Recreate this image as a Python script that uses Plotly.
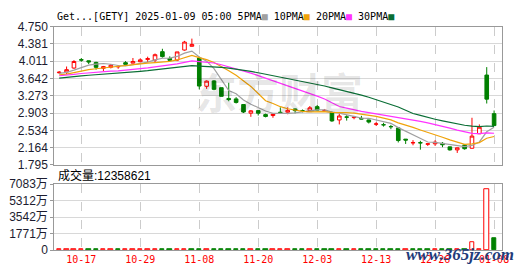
import plotly.graph_objects as go

# ---------------- data ----------------
open_ = [3.765, 3.78, 3.865, 4.045, 4.02, 3.985, 3.86, 3.88, 3.89, 3.98,
         3.97, 4.00, 4.05, 4.035, 4.215, 4.07, 4.035, 4.25, 4.33, 4.08,
         3.475, 3.59, 3.445, 3.215, 3.205, 3.085, 2.90, 2.955, 2.87, 2.85,
         2.92, 2.92, 2.99, 2.955, 2.955, 3.04, 2.95, 2.905, 2.755, 2.82,
         2.805, 2.79, 2.755, 2.665, 2.655, 2.615, 2.585, 2.345, 2.265, 2.27,
         2.235, 2.245, 2.255, 2.18, 2.115, 2.22, 2.15, 2.46, 3.715, 2.89]
high = [3.80, 3.898, 4.034, 4.08, 4.025, 4.00, 3.91, 3.95, 3.926, 4.013,
        4.08, 4.074, 4.108, 4.176, 4.277, 4.115, 4.21, 4.446, 4.494, 4.109,
        3.60, 3.607, 3.445, 3.55, 3.243, 3.09, 2.965, 2.96, 2.891, 2.89,
        3.025, 3.025, 3.00, 2.979, 3.053, 3.074, 2.99, 2.938, 2.891, 2.857,
        2.843, 2.843, 2.76, 2.709, 2.694, 2.65, 2.60, 2.345, 2.323, 2.309,
        2.25, 2.323, 2.282, 2.185, 2.165, 2.242, 2.802, 2.66, 3.885, 2.958]
low = [3.74, 3.735, 3.85, 4.00, 3.95, 3.83, 3.80, 3.857, 3.85, 3.945,
       3.965, 3.987, 3.987, 3.987, 4.088, 4.025, 4.013, 4.237, 4.325, 3.41,
       3.42, 3.39, 3.257, 3.155, 3.107, 2.904, 2.822, 2.85, 2.81, 2.802,
       2.915, 2.877, 2.897, 2.917, 2.955, 2.96, 2.945, 2.715, 2.66, 2.741,
       2.769, 2.77, 2.68, 2.627, 2.613, 2.558, 2.274, 2.242, 2.214, 2.12,
       2.20, 2.20, 2.173, 2.10, 2.05, 2.12, 2.145, 2.455, 3.107, 2.63]
close = [3.775, 3.83, 4.005, 4.035, 3.995, 3.88, 3.895, 3.925, 3.90, 3.945,
         4.005, 4.04, 4.065, 4.15, 4.11, 4.03, 4.21, 4.42, 4.37, 3.48,
         3.585, 3.41, 3.26, 3.19, 3.13, 2.925, 2.95, 2.90, 2.83, 2.88,
         2.915, 2.96, 2.955, 2.95, 3.015, 2.965, 2.96, 2.735, 2.84, 2.815,
         2.815, 2.775, 2.71, 2.67, 2.65, 2.61, 2.315, 2.325, 2.27, 2.265,
         2.245, 2.28, 2.225, 2.115, 2.16, 2.14, 2.41, 2.60, 3.20, 2.635]
# closes before the visible window (estimated from where the MA lines start)
pre_close = [3.50, 3.52, 3.48, 3.55, 3.58, 3.54, 3.56, 3.60, 3.57, 3.60,
             3.62, 3.65, 3.63, 3.68, 3.70, 3.66, 3.69, 3.72, 3.71, 3.74,
             3.70, 3.66, 3.68, 3.71, 3.70, 3.72, 3.76, 3.74, 3.76]
# volume in millions of shares
volume_m = [0.6, 0.7, 0.9, 0.8, 0.6, 0.7, 0.5, 0.5, 0.5, 0.6,
            0.7, 0.6, 0.7, 0.8, 0.9, 0.6, 0.8, 1.0, 0.9, 1.2,
            1.0, 0.9, 0.8, 0.8, 0.7, 0.9, 0.8, 0.7, 0.7, 0.6,
            0.6, 0.6, 0.5, 0.5, 0.6, 0.6, 0.5, 0.8, 0.7, 0.6,
            0.5, 0.5, 0.6, 0.7, 0.6, 0.7, 1.0, 0.8, 0.7, 0.8,
            0.6, 0.6, 0.5, 0.7, 0.6, 0.6, 8.9, 0.9, 65.7, 12.358621]

date_tick_idx = [3, 11, 19, 27, 35, 43, 51, 59]
date_tick_labels = ["10-17", "10-29", "11-08", "11-20", "12-03", "12-13", "12-26", "01-08"]
price_tick_labels = ["1.795", "2.164", "2.534", "2.903", "3.273", "3.642", "4.011", "4.381", "4.750"]
vol_tick_vals = [0, 17710000, 35420000, 53120000, 70830000]
vol_tick_labels = ["0", "1771万", "3542万", "5312万", "7083万"]

ma_periods = [5, 10, 20, 30]
ma_colors = ["#a0a0a0", "#f0a30a", "#ff33ff", "#0a6e35"]

# ---------------- derived ----------------
n = len(close)
idx = list(range(n))
full = pre_close + close
off = len(pre_close)
mas = {}
for p in ma_periods:
    mas[p] = [sum(full[off + i - p + 1: off + i + 1]) / p for i in idx]
volume = [v * 1e6 for v in volume_m]
prev = [pre_close[-1]] + close[:-1]
up = [c >= pc for c, pc in zip(close, prev)]

W, H = 530, 276
xl, xr = 55, 509
m_top, m_bot = 20.7, 166.3
v_top, v_bot = 186.7, 256.0

fig = go.Figure()

for p, col in zip(ma_periods, ma_colors):
    fig.add_trace(go.Scatter(x=idx, y=mas[p], mode="lines",
                             line=dict(color=col, width=1.2),
                             xaxis="x", yaxis="y", hoverinfo="skip"))

fig.add_trace(go.Candlestick(
    x=idx, open=open_, high=high, low=low, close=close,
    increasing=dict(line=dict(color="#ff0000", width=1), fillcolor="#ffffff"),
    decreasing=dict(line=dict(color="#008000", width=1), fillcolor="#008000"),
    whiskerwidth=0, xaxis="x", yaxis="y"))

fig.add_trace(go.Bar(
    x=[i for i in idx if up[i]], y=[volume[i] for i in idx if up[i]],
    marker=dict(color="#ffffff", line=dict(color="#ff0000", width=1)),
    width=0.6, xaxis="x2", yaxis="y2"))
fig.add_trace(go.Bar(
    x=[i for i in idx if not up[i]], y=[volume[i] for i in idx if not up[i]],
    marker=dict(color="#008000", line=dict(color="#008000", width=1)),
    width=0.6, xaxis="x2", yaxis="y2"))

xrange = [-0.67, 60.11]
axis_common = dict(showline=True, linecolor="#999999", linewidth=1, mirror=True,
                   zeroline=False, fixedrange=True)
tick_font = dict(family="Liberation Sans, Noto Sans CJK SC, sans-serif", size=12, color="#1c1c30")

fig.update_layout(
    width=W, height=H, margin=dict(l=0, r=0, t=0, b=0),
    paper_bgcolor="#ffffff", plot_bgcolor="#ffffff",
    showlegend=False, bargap=0,
    xaxis=dict(domain=[xl / W, xr / W], range=xrange, anchor="y",
               tickvals=date_tick_idx, showticklabels=False, ticks="",
               showgrid=True, gridcolor="#cccccc", griddash="dash", gridwidth=1,
               rangeslider=dict(visible=False), **axis_common),
    yaxis=dict(domain=[1 - m_bot / H, 1 - m_top / H], range=[1.795, 4.750], anchor="x",
               tickvals=[float(s) for s in price_tick_labels], ticktext=price_tick_labels,
               ticks="outside", ticklen=3, tickcolor="#999999",
               showgrid=True, gridcolor="#d8d8d8", gridwidth=1,
               tickfont=tick_font, **axis_common),
    xaxis2=dict(domain=[xl / W, xr / W], range=xrange, anchor="y2",
                tickvals=date_tick_idx, ticktext=date_tick_labels, ticks="",
                tickfont=dict(family="DejaVu Sans Mono, monospace", size=10, color="#ff0000"),
                showgrid=True, gridcolor="#cccccc", griddash="dash", gridwidth=1,
                **axis_common),
    yaxis2=dict(domain=[1 - v_bot / H, 1 - v_top / H], range=[0, 70830000], anchor="x2",
                tickvals=vol_tick_vals, ticktext=vol_tick_labels,
                ticks="outside", ticklen=3, tickcolor="#999999",
                showgrid=True, gridcolor="#d8d8d8", gridwidth=1,
                tickfont=tick_font, **axis_common),
)

title_html = ("Get...[GETY] 2025-01-09 05:00 5PMA<span style='color:%s'>■</span> "
              "10PMA<span style='color:%s'>■</span> 20PMA<span style='color:%s'>■</span> "
              "30PMA<span style='color:%s'>■</span>") % tuple(ma_colors)

fig.update_layout(annotations=[
    dict(text=title_html, x=56 / W, y=1 - 10 / H, xref="paper", yref="paper",
         xanchor="left", yanchor="middle", showarrow=False,
         font=dict(family="DejaVu Sans Mono, monospace", size=10, color="#000000")),
    dict(text="成交量:12358621", x=57 / W, y=1 - 177 / H, xref="paper", yref="paper",
         xanchor="left", yanchor="middle", showarrow=False,
         font=dict(family="Liberation Sans, Noto Sans CJK SC, sans-serif", size=12, color="#000000")),
    dict(text="<b>东方财富</b>", x=283 / W, y=1 - 88 / H, xref="paper", yref="paper",
         xanchor="center", yanchor="middle", showarrow=False,
         font=dict(family="Noto Sans CJK SC, sans-serif", size=42, color="rgba(0,0,0,0.10)")),
    dict(text="<b><i>www.365jz.com</i></b>", x=466 / W, y=1 - 261 / H, xref="paper", yref="paper",
         xanchor="center", yanchor="middle", showarrow=False,
         font=dict(family="Liberation Serif, serif", size=17, color="#1f3c7a")),
])

fig.write_html("out.html")
